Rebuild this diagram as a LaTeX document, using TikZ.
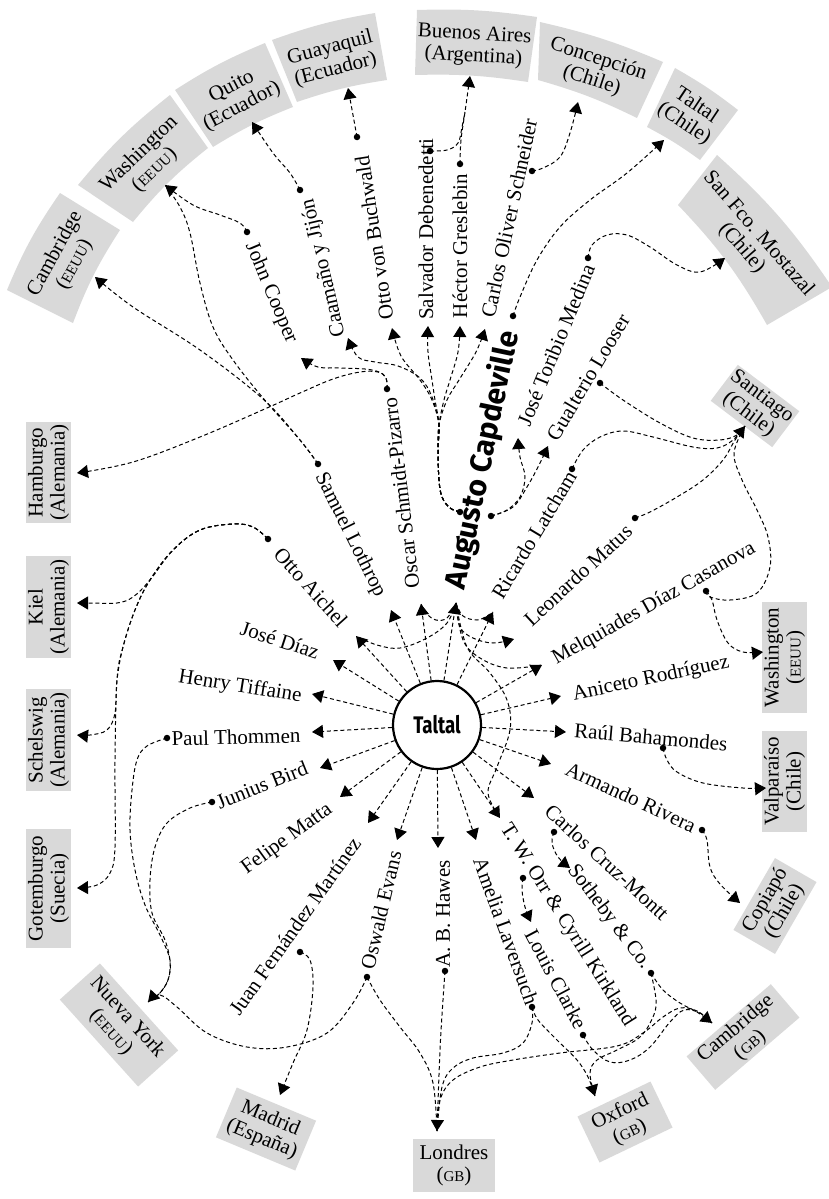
\documentclass[tikz,border=0pt]{standalone}
\usepackage{fontspec}
\setmainfont{Liberation Serif}
\newfontfamily\capfont{Fira Sans}
\newfontfamily\taltalfont{Fira Sans}[FakeStretch=0.78]
\usetikzlibrary{arrows.meta}
\definecolor{boxgray}{gray}{0.85}
\newcommand{\smcp}[1]{{\fontsize{15}{15}\selectfont #1}}
\begin{document}
\begin{tikzpicture}[x=1pt,y=-1pt,
  link/.style={line width=1pt, dash pattern=on 4pt off 2.8pt},
  arr/.style={link, -{Triangle[length=11pt,width=13pt]}},
  dotn/.style={circle, fill=black, inner sep=0pt, minimum size=6.5pt},
  nm/.style={font=\fontsize{21}{23}\selectfont, inner sep=1pt},
  plc/.style={fill=boxgray, align=center, font=\fontsize{21}{22}\selectfont, inner sep=0pt},
  plt/.style={align=center, font=\fontsize{21}{22}\selectfont, inner sep=0pt},
  sm/.style={smooth, tension=0.6}
]
\useasboundingbox (0,0) rectangle (828,1199);

% ---------- top sector boxes ----------
\fill[boxgray] (7,290) to[bend left=6] (60,193) -- (120,230) to[bend right=6] (73,323) -- cycle;
\fill[boxgray] (78,185) to[bend left=6] (170,95) -- (208,148) to[bend right=6] (133,222) -- cycle;
\fill[boxgray] (175,90) to[bend left=5] (265,43) -- (293,107) to[bend right=5] (213,147) -- cycle;
\fill[boxgray] (272,40) to[bend left=5] (375,13) -- (387,80) to[bend right=5] (297,102) -- cycle;
\fill[boxgray] (417,10) to[bend left=5] (537,17) -- (528,82) to[bend right=5] (415,75) -- cycle;
\fill[boxgray] (540,22) to[bend left=5] (663,62) -- (637,118) to[bend right=5] (538,80) -- cycle;
\fill[boxgray] (675,68) to[bend left=4] (738,110) -- (700,160) to[bend right=4] (647,127) -- cycle;
\fill[boxgray] (717,155) to[bend left=7] (832,287) -- (767,325) to[bend right=7] (678,205) -- cycle;
\node[plt, rotate=61.3] (bCamU) at (65,259) {Cambridge\\(\smcp{EEUU})};
\node[plt, rotate=44.4] (bWasU) at (147,162) {Washington\\(\smcp{EEUU})};
\node[plt, rotate=27.6] (bQui) at (237,97) {Quito\\(Ecuador)};
\node[plt, rotate=14.7] (bGua) at (333,59) {Guayaquil\\(Ecuador)};
\node[plt, rotate=-3.3] (bBA) at (474,46) {Buenos Aires\\(Argentina)};
\node[plt, rotate=-18] (bCon) at (595,70) {Concepción\\(Chile)};
\node[plt, rotate=-33.7] (bTalC) at (690,115) {Taltal\\(Chile)};
\node[plt, rotate=-49] (bSF) at (750,241) {San Fco. Mostazal\\(Chile)};

% ---------- other place boxes ----------
\node[plc, rotate=90, minimum width=101pt, minimum height=45pt] (bHam) at (48.5,472.5) {Hamburgo\\(Alemania)};
\node[plc, rotate=90, minimum width=102pt, minimum height=45pt] (bKiel) at (48.5,607) {Kiel\\(Alemania)};
\node[plc, rotate=90, minimum width=102pt, minimum height=45pt] (bSch) at (48.5,740) {Schelswig\\(Alemania)};
\node[plc, rotate=90, minimum width=119pt, minimum height=45pt] (bGot) at (48.5,888.5) {Gotemburgo\\(Suecia)};
\node[plc, rotate=-48, minimum width=117pt, minimum height=54pt] (bNY) at (119,1025) {Nueva York\\(\smcp{EEUU})};
\node[plc, rotate=-22.7, minimum width=86pt, minimum height=54pt] (bMad) at (266,1129) {Madrid\\(España)};
\node[plc, minimum width=82pt, minimum height=53pt] (bLon) at (454,1165.5) {Londres\\(\smcp{GB})};
\node[plc, rotate=25.6, minimum width=81pt, minimum height=51pt] (bOx) at (625,1122) {Oxford\\(\smcp{GB})};
\node[plc, rotate=40.6, minimum width=111pt, minimum height=44pt] (bCamG) at (743,1037) {Cambridge\\(\smcp{GB})};
\node[plc, rotate=60, minimum width=83pt, minimum height=48pt] (bCop) at (775,906) {Copiapó\\(Chile)};
\node[plc, rotate=90, minimum width=101pt, minimum height=45pt] (bVal) at (784.5,781.5) {Valparaíso\\(Chile)};
\node[plc, rotate=90, minimum width=111pt, minimum height=45pt] (bWasR) at (784.5,657.5) {Washington\\(\smcp{EEUU})};
\node[plc, rotate=-37, minimum width=77pt, minimum height=45pt] (bSan) at (755,406) {Santiago\\(Chile)};

% ---------- arrow tip coordinates ----------
\coordinate (tOA) at (356,636);
\coordinate (tSL) at (391,610);
\coordinate (tOS) at (421,604);
\coordinate (tAC) at (456,603);
\coordinate (tRL) at (493,612);
\coordinate (tLM) at (514,639);
\coordinate (tMD) at (542,665);
\coordinate (tAR) at (561,696);
\coordinate (tRB) at (566,732);
\coordinate (tArm) at (551,764);
\coordinate (tCC) at (534,798);
\coordinate (tTW) at (500,818);
\coordinate (tAL) at (476,840);
\coordinate (tAB) at (438,848);
\coordinate (tOE) at (397,840);
\coordinate (tJF) at (368,823);
\coordinate (tFM) at (340,797);
\coordinate (tJB) at (320,768);
\coordinate (tPT) at (312,732);
\coordinate (tHT) at (312,694);
\coordinate (tJD) at (333,660);
\coordinate (tJC) at (301,358);
\coordinate (tCJ) at (348,338);
\coordinate (tOB) at (392,328);
\coordinate (tSD) at (428,326);
\coordinate (tHG) at (460,326);
\coordinate (tCO) at (485,329);
\coordinate (tJT) at (518,438);
\coordinate (tGL) at (548,446);
\coordinate (tSC) at (570,868);
\coordinate (tLC) at (531,922);
\coordinate (pCamU) at (95,277);
\coordinate (pWasU) at (165,185);
\coordinate (pQui) at (252,122);
\coordinate (pGua) at (348,88);
\coordinate (pBA) at (470,76);
\coordinate (jBA) at (465,112);
\coordinate (pCon) at (578,102);
\coordinate (pTalC) at (664,140);
\coordinate (pSF) at (725,258);
\coordinate (pSan) at (745,426);
\coordinate (pWasR) at (763,652);
\coordinate (pVal) at (766,788);
\coordinate (pCop) at (740,903);
\coordinate (pCamG) at (712,1023);
\coordinate (pOx) at (595,1096);
\coordinate (pLon) at (437,1131);
\coordinate (pMad) at (280,1095);
\coordinate (pNY) at (148,1002);
\coordinate (pGot) at (77,888);
\coordinate (pSch) at (77,735);
\coordinate (pKiel) at (77,603);
\coordinate (pHam) at (77,473);

% ---------- dots ----------
\coordinate (dJC) at (247,232);
\coordinate (dCJ) at (300,190);
\coordinate (dOB) at (357,137);
\coordinate (dSD) at (430,151);
\coordinate (dHG) at (460,164);
\coordinate (dCO) at (532,171);
\coordinate (dA1) at (460,512);
\coordinate (dA2) at (491,516);
\coordinate (dA3) at (513,316);
\coordinate (dJT) at (588,258);
\coordinate (dGL) at (600,383);
\coordinate (dRL) at (572,469);
\coordinate (dLM) at (635,518);
\coordinate (dMD) at (706,591);
\coordinate (dRB) at (663,748);
\coordinate (dArm) at (702,830);
\coordinate (dCC) at (554,832);
\coordinate (dSC) at (651,973);
\coordinate (dTW) at (523,878);
\coordinate (dLC) at (583,1035);
\coordinate (dAL) at (532,1007);
\coordinate (dAB) at (445,971);
\coordinate (dOE) at (367,977);
\coordinate (dJF) at (300,952);
\coordinate (dJB) at (212,802);
\coordinate (dPT) at (167,738);
\coordinate (dOA) at (268,539);
\coordinate (dSL) at (318,464);
\coordinate (dOS) at (387,389);

% ---------- Taltal ----------
\node[circle, draw, line width=2.2pt, minimum size=88pt, fill=white,
      font=\taltalfont\bfseries\fontsize{24}{24}\selectfont] (taltal) at (437,725) {Taltal};

\foreach \t in {tOA,tSL,tOS,tAC,tRL,tMD,tAR,tRB,tArm,tCC,tTW,tAL,tAB,tOE,tJF,tFM,tJB,tPT,tHT,tJD}
  \draw[arr] (taltal) -- (\t);

% hub curves from Augusto's arrow
\draw[link] plot[sm] coordinates {(tAC) (447,623) (427,638) (400,648) (377,645) (tOA)};
\draw[link] plot[sm] coordinates {(tAC) (447,618) (436,620) (427,614) (tOS)};
\draw[link] plot[sm] coordinates {(tAC) (463,616) (477,620) (487,616) (tRL)};
\draw[arr] plot[sm] coordinates {(tAC) (460,627) (473,638) (493,643) (tLM)};
\draw[link] plot[sm] coordinates {(tAC) (463,640) (480,658) (507,668) (tMD)};
\draw[link] plot[sm] coordinates {(tAC) (467,647) (490,673) (507,700) (510,730) (497,767) (488,793) (tTW)};

% fan from Augusto (dot 1)
\draw[arr] plot[sm] coordinates {(dA1) (450,508) (442,497) (439,480) (438,450) (439,425) (432,397) (420,378) (398,366) (375,362) (358,357) (tCJ)};
\draw[arr] plot[sm] coordinates {(dA1) (450,508) (442,497) (439,480) (438,450) (439,425) (432,400) (420,380) (401,356) (tOB)};
\draw[arr] plot[sm] coordinates {(dA1) (450,508) (442,497) (439,480) (438,450) (439,425) (435,400) (432,380) (428,352) (tSD)};
\draw[arr] plot[sm] coordinates {(dA1) (450,508) (442,497) (439,480) (438,450) (439,425) (444,400) (450,380) (458,352) (tHG)};
\draw[arr] plot[sm] coordinates {(dA1) (450,508) (442,497) (439,480) (438,450) (439,425) (447,400) (459,380) (476,352) (tCO)};
% dot 2
\draw[arr] plot[sm] coordinates {(dA2) (507,510) (520,497) (525,477) (520,457) (tJT)};
\draw[arr] plot[sm] coordinates {(dA2) (513,507) (527,487) (538,467) (tGL)};
% Oscar
\draw[arr] plot[sm] coordinates {(dOS) (386,378) (379,372) (365,369) (340,368) (318,367) (tJC)};
\draw[arr] plot[sm] coordinates {(dOS) (386,378) (378,372) (360,372) (333,379) (300,393) (267,408) (200,437) (133,462) (pHam)};
% Samuel
\draw[arr] plot[sm] coordinates {(dSL) (300,440) (263,399) (200,350) (133,307) (pCamU)};
\draw[link] plot[sm] coordinates {(dSL) (300,440) (263,398) (233,360) (213,327) (200,283) (190,233) (180,207) (pWasU)};
% top people to places
\draw[arr] plot[sm] coordinates {(dJC) (240,223) (220,215) (193,205) (pWasU)};
\draw[arr] plot[sm] coordinates {(dCJ) (290,173) (273,153) (pQui)};
\draw[arr] plot[sm] coordinates {(dOB) (353,115) (pGua)};
\draw[link] plot[sm] coordinates {(dSD) (447,150) (458,143) (462,127) (jBA)};
\draw[arr] plot[sm] coordinates {(dHG) (461,140) (jBA) (pBA)};
\draw[arr] plot[sm] coordinates {(dCO) (543,168) (560,157) (570,133) (pCon)};
\draw[arr] plot[sm] coordinates {(dA3) (520,297) (537,260) (560,227) (590,200) (627,173) (pTalC)};
\draw[arr] plot[sm] coordinates {(dJT) (592,245) (607,235) (627,235) (650,247) (677,265) (700,272) (pSF)};
% Santiago
\draw[link] plot[sm] coordinates {(dGL) (623,400) (660,423) (693,438) (720,440) (737,435) (pSan)};
\draw[link] plot[sm] coordinates {(dRL) (583,450) (600,437) (623,431) (653,437) (693,447) (717,448) (733,440) (pSan)};
\draw[arr] plot[sm] coordinates {(dLM) (650,512) (677,497) (703,480) (723,460) (735,440) (pSan)};
\draw[link] plot[sm] coordinates {(dMD) (710,597) (730,600) (757,593) (770,567) (768,537) (757,510) (742,480) (734,453) (pSan)};
\draw[arr] plot[sm] coordinates {(dMD) (712,600) (717,620) (728,643) (743,652) (pWasR)};
\draw[arr] plot[sm] coordinates {(dRB) (667,760) (677,772) (703,783) (743,788) (pVal)};
\draw[arr] plot[sm] coordinates {(dArm) (707,840) (710,867) (720,884) (pCop)};
\draw[arr] plot[sm] coordinates {(dCC) (552,843) (558,857) (tSC)};
\draw[arr] plot[sm] coordinates {(dTW) (522,890) (525,907) (tLC)};
% lower right
\draw[arr] plot[sm] coordinates {(dSC) (663,990) (680,1003) (697,1012) (pCamG)};
\draw[arr] plot[sm] coordinates {(dSC) (656,1000) (653,1017) (640,1037) (617,1050) (597,1060) (590,1073) (pOx)};
\draw[link] plot[sm] coordinates {(dLC) (593,1050) (610,1062) (630,1060) (650,1047) (670,1022) (684,1010) (700,1013) (pCamG)};
\draw[link] plot[sm] coordinates {(pLon) (440,1100) (453,1080) (480,1067) (513,1060) (560,1053) (617,1046) (643,1033) (663,1017) (680,1008) (697,1011) (pCamG)};
\draw[link] plot[sm] coordinates {(dAL) (532,1023) (523,1043) (503,1053) (473,1058) (453,1068) (442,1087) (pLon)};
\draw[link] plot[sm] coordinates {(dAL) (538,1020) (557,1040) (577,1060) (588,1077) (pOx)};
\draw[arr] plot[sm] coordinates {(dAB) (443,1000) (440,1050) (pLon)};
\draw[link] plot[sm] coordinates {(dOE) (380,1000) (400,1027) (420,1053) (433,1083) (pLon)};
% lower left
\draw[arr] plot[sm] coordinates {(dOE) (353,1003) (327,1033) (287,1047) (247,1047) (207,1033) (177,1007) (160,995) (pNY)};
\draw[arr] plot[sm] coordinates {(dJF) (310,960) (313,987) (307,1030) (293,1063) (pMad)};
\draw[link] plot[sm] coordinates {(dJB) (190,808) (167,823) (155,847) (150,880) (152,913) (165,940) (170,962) (168,980) (159,994) (pNY)};
\draw[link] plot[sm] coordinates {(dPT) (147,746) (137,760) (132,790) (130,830) (135,870) (145,905) (160,935) (170,960) (168,980) (159,994) (pNY)};
% Otto Aichel
\draw[arr] plot[sm] coordinates {(dOA) (253,527) (233,524) (200,530) (173,550) (150,580) (133,597) (117,603) (93,603) (pKiel)};
\draw[arr] plot[sm] coordinates {(dOA) (253,527) (233,524) (200,530) (173,550) (150,580) (135,610) (123,647) (117,680) (115,713) (107,730) (90,735) (pSch)};
\draw[arr] plot[sm] coordinates {(dOA) (253,527) (233,524) (200,530) (173,550) (150,580) (135,610) (123,647) (117,680) (115,760) (115,847) (110,873) (97,885) (pGot)};

% dots on top
\foreach \d in {dJC,dCJ,dOB,dSD,dHG,dCO,dA1,dA2,dA3,dJT,dGL,dRL,dLM,dMD,dRB,dArm,dCC,dSC,dTW,dLC,dAL,dAB,dOE,dJF,dJB,dPT,dOA,dSL,dOS}
  \node[dotn] at (\d) {};

% ---------- names ----------
\node[nm, rotate=-67.2] (nJC) at (271,293) {John Cooper};
\node[nm, rotate=103.1] (nCJ) at (324,268) {Caamaño y Jijón};
\node[nm, rotate=98.7] (nOB) at (374,238) {Otto von Buchwald};
\node[nm, rotate=90] (nSD) at (426,229) {Salvador Debenedetti};
\node[nm, rotate=90] (nHG) at (460,246) {Héctor Greslebin};
\node[nm, rotate=77.8] (nCO) at (509,218) {Carlos Oliver Schneider};
\node[font=\capfont\bfseries\fontsize{30}{30}\selectfont, inner sep=0pt, rotate=78.2] (nAC) at (483,460) {Augusto Capdeville};
\node[nm, rotate=67.6] (nJT) at (556,345) {José Toribio Medina};
\node[nm, rotate=59.3] (nGL) at (588,377) {Gualterio Looser};
\node[nm, rotate=59] (nRL) at (534,535) {Ricardo Latcham};
\node[nm, rotate=42.7] (nLM) at (578,575) {Leonardo Matus};
\node[nm, rotate=29.5] (nMD) at (654,604) {Melquiades Díaz Casanova};
\node[nm, rotate=11.9] (nAR) at (651,679) {Aniceto Rodríguez};
\node[nm, rotate=-5] (nRB) at (651,737) {Raúl Bahamondes};
\node[nm, rotate=-24.7] (nArm) at (631,797) {Armando Rivera};
\node[nm, rotate=-42.5] (nCC) at (607,862) {Carlos Cruz-Montt};
\node[nm, rotate=-52.9] (nSC) at (609,917) {Sotheby \& Co.};
\node[nm, rotate=-57.8] (nTW) at (567,925) {T. W. Orr \& Cyrill Kirkland};
\node[nm, rotate=-62] (nLC) at (556,979) {Louis Clarke};
\node[nm, rotate=-70] (nAL) at (506,931) {Amelia Laversuch};
\node[nm, rotate=90] (nAB) at (443,914) {A. B. Hawes};
\node[nm, rotate=76.8] (nOE) at (381,910) {Oswald Evans};
\node[nm, rotate=54.8] (nJF) at (295,926) {Juan Fernández Martínez};
\node[nm, rotate=36] (nFM) at (287,839) {Felipe Matta};
\node[nm, rotate=21.8] (nJB) at (262,785) {Junius Bird};
\node[nm, rotate=1.5] (nPT) at (236,737) {Paul Thommen};
\node[nm, rotate=-9] (nHT) at (240,687) {Henry Tiffaine};
\node[nm, rotate=-18] (nJD) at (280,640) {José Díaz};
\node[nm, rotate=-48] (nOA) at (311,587) {Otto Aichel};
\node[nm, rotate=-63.4] (nSL) at (350,535) {Samuel Lothrop};
\node[nm, rotate=96.9] (nOS) at (401,493) {Oscar Schmidt-Pizarro};
\end{tikzpicture}
\end{document}
